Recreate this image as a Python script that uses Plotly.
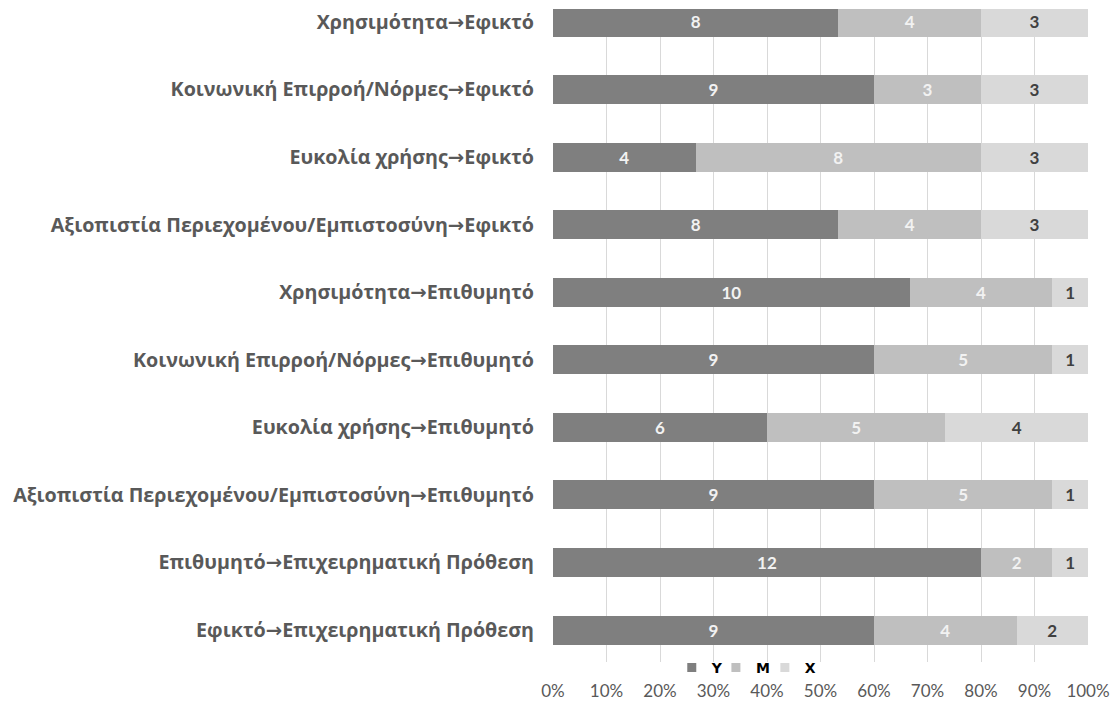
import plotly.graph_objects as go

# Relationships (listed top to bottom) and the count of answers per category
relations = [
    "Χρησιμότητα→Εφικτό",
    "Κοινωνική Επιρροή/Νόρμες→Εφικτό",
    "Ευκολία χρήσης→Εφικτό",
    "Αξιοπιστία Περιεχομένου/Εμπιστοσύνη→Εφικτό",
    "Χρησιμότητα→Επιθυμητό",
    "Κοινωνική Επιρροή/Νόρμες→Επιθυμητό",
    "Ευκολία χρήσης→Επιθυμητό",
    "Αξιοπιστία Περιεχομένου/Εμπιστοσύνη→Επιθυμητό",
    "Επιθυμητό→Επιχειρηματική Πρόθεση",
    "Εφικτό→Επιχειρηματική Πρόθεση",
]
y_counts = [8, 9, 4, 8, 10, 9, 6, 9, 12, 9]
m_counts = [4, 3, 8, 4, 4, 5, 5, 5, 2, 4]
x_counts = [3, 3, 3, 3, 1, 1, 4, 1, 1, 2]

# name, values, bar colour, label colour, legend id, legend x (paper)
series = [
    ("Y", y_counts, "#7f7f7f", "#f2f2f2", "legend", 0.2220),
    ("M", m_counts, "#bfbfbf", "#f2f2f2", "legend2", 0.3045),
    ("X", x_counts, "#d9d9d9", "#404040", "legend3", 0.3960),
]

LABEL_FONT = "Lato, 'Open Sans', sans-serif"
CATEGORY_FONT = "'Open Sans', 'DejaVu Sans', sans-serif"

fig = go.Figure()
for name, vals, color, txtcolor, leg, _ in series:
    fig.add_trace(go.Bar(
        name=name,
        y=relations,
        x=vals,
        orientation="h",
        width=0.43,
        marker=dict(color=color, line=dict(width=0)),
        text=[str(v) for v in vals],
        textposition="inside",
        insidetextanchor="middle",
        textangle=0,
        textfont=dict(family=LABEL_FONT, size=17, color=txtcolor, weight="bold"),
        hoverinfo="skip",
        showlegend=False,
    ))
    # small square key for each series
    fig.add_trace(go.Scatter(
        name=name,
        x=[None], y=[None],
        mode="markers",
        marker=dict(symbol="square", size=9, color=color),
        legend=leg,
        showlegend=True,
    ))

legend_style = dict(
    orientation="h",
    xanchor="left",
    y=-0.009, yanchor="middle",
    font=dict(family="DejaVu Sans", size=14, color="#000000", weight="bold"),
    itemwidth=30,
    bgcolor="rgba(0,0,0,0)",
)

fig.update_layout(
    barmode="stack",
    barnorm="percent",
    width=1115,
    height=702,
    margin=dict(l=553, r=27, t=9, b=40, autoexpand=False),
    paper_bgcolor="white",
    plot_bgcolor="white",
    uniformtext=dict(minsize=8, mode="show"),
    legend=dict(x=series[0][5], **legend_style),
    legend2=dict(x=series[1][5], **legend_style),
    legend3=dict(x=series[2][5], **legend_style),
    xaxis=dict(
        range=[0, 100],
        dtick=10,
        ticksuffix="%",
        showgrid=True,
        gridcolor="#d9d9d9",
        gridwidth=1,
        zeroline=False,
        showline=False,
        ticks="",
        ticklabelstandoff=17,
        tickfont=dict(family=LABEL_FONT, size=17, color="#595959"),
    ),
    yaxis=dict(
        type="category",
        categoryorder="array",
        categoryarray=relations,
        range=[9.473, -0.192],
        showgrid=False,
        zeroline=False,
        showline=False,
        ticks="",
        ticklabelstandoff=18,
        tickfont=dict(family=CATEGORY_FONT, size=19.7,
                      color="#595959", weight="bold"),
    ),
)

fig.write_html("out.html")
